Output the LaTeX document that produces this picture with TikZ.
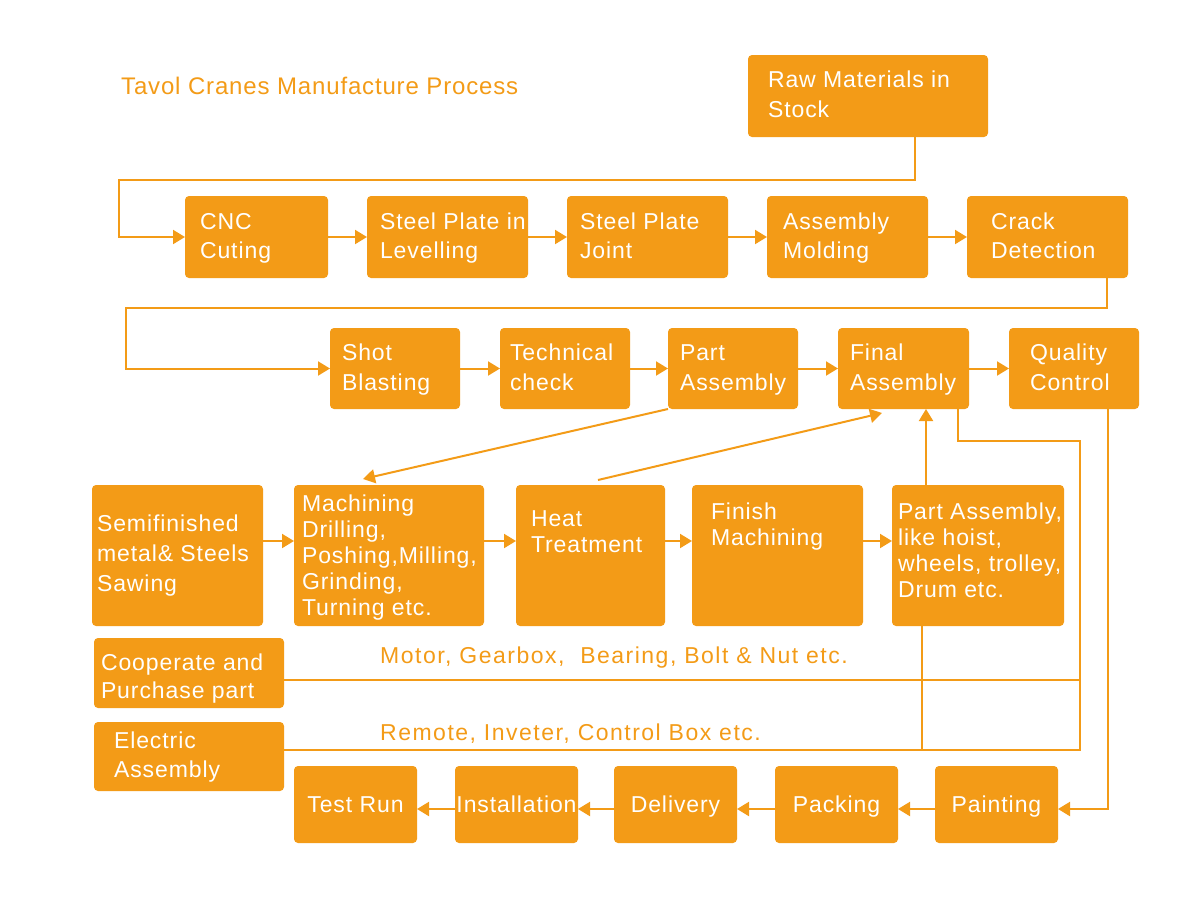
\documentclass[tikz,border=0pt]{standalone}
\usepackage{fontspec}
\setmainfont{Liberation Sans}[LetterSpace=4]
\newfontfamily\titlefam{Liberation Sans}[LetterSpace=3.5]
\newfontfamily\lblfam{Liberation Sans}[LetterSpace=6.5]
\usetikzlibrary{arrows.meta}
\definecolor{tc}{RGB}{243,155,23}
\newcommand\bt[5]{\hspace*{#1pt}\parbox[c][#2pt][t]{#3pt}{\vspace*{#4pt}\begin{tabular}[t]{@{}l@{}}#5\end{tabular}}}
\begin{document}
\begin{tikzpicture}[x=1pt,y=-1pt,
  box/.style={fill=tc, rounded corners=4pt, text=white, inner sep=0pt, outer sep=0pt},
  fA/.style={font=\fontsize{23}{29}\selectfont},
  fB/.style={font=\fontsize{23}{30}\selectfont},
  fC/.style={font=\fontsize{23}{26}\selectfont},
  fD/.style={font=\fontsize{23}{28}\selectfont},
  lastbox/.style={box, font=\fontsize{23}{26}\selectfont, minimum width=123pt, minimum height=77pt, text height=16.5pt, text depth=0pt},
  ln/.style={draw=tc, line width=2pt},
  arr/.style={ln, -{Triangle[length=12pt,width=14pt]}},
  lbl/.style={text=tc, inner sep=0pt, anchor=base west, font=\lblfam\fontsize{23}{28}\selectfont}]
\useasboundingbox (0,0) rectangle (1200,900);

% title
\node[text=tc, inner sep=0pt, anchor=base west, font=\titlefam\fontsize{24}{28}\selectfont] (title) at (121,94) {Tavol Cranes Manufacture Process};

% raw
\node[box,fB] (raw) at (868,96) {\bt{20}{82}{220}{11.3}{Raw Materials in\\Stock}};

% row 1
\node[box,fA] (cnc) at (256.5,237) {\bt{15}{82}{128}{12.7}{CNC\\Cuting}};
\node[box,fA] (spl) at (447.5,237) {\bt{13}{82}{148}{12.7}{Steel Plate in\\Levelling}};
\node[box,fA] (spj) at (647.5,237) {\bt{13}{82}{148}{12.7}{Steel Plate\\Joint}};
\node[box,fA] (am) at (847.5,237) {\bt{16}{82}{145}{12.7}{Assembly\\Molding}};
\node[box,fA] (cd) at (1047.5,237) {\bt{24}{82}{137}{12.7}{Crack\\Detection}};

% row 2
\node[box,fB] (shot) at (395,368.5) {\bt{12}{81}{118}{11}{Shot\\Blasting}};
\node[box,fB] (tech) at (565,368.5) {\bt{10}{81}{120}{11}{Technical\\check}};
\node[box,fB] (parta) at (733,368.5) {\bt{12}{81}{118}{11}{Part\\Assembly}};
\node[box,fB] (final) at (903.5,368.5) {\bt{12}{81}{119}{11}{Final\\Assembly}};
\node[box,fB] (qc) at (1074,368.5) {\bt{21}{81}{109}{11}{Quality\\Control}};

% row 3
\node[box,fB] (semi) at (177.5,555.5) {\bt{5}{141}{166}{25.7}{Semifinished\\metal\& Steels\\Sawing}};
\node[box,fC] (mach) at (389,555.5) {\bt{8}{141}{182}{8.5}{Machining\\Drilling,\\Poshing,Milling,\\Grinding,\\Turning etc.}};
\node[box,fC] (heat) at (590.5,555.5) {\bt{15}{141}{134}{23.5}{Heat\\Treatment}};
\node[box,fC] (finish) at (777.5,555.5) {\bt{19}{141}{152}{16.1}{Finish\\Machining}};
\node[box,fC] (pal) at (978,555.5) {\bt{6}{141}{166}{15.8}{Part Assembly,\\like hoist,\\wheels, trolley,\\Drum etc.}};

% side boxes
\node[box,fD] (coop) at (189,673) {\bt{7}{70}{183}{12.4}{Cooperate and\\Purchase part}};
\node[box,fA] (elec) at (189,756.5) {\bt{20}{69}{170}{6}{Electric\\Assembly}};

% row 4
\node[lastbox] (test) at (355.5,804.5) {Test Run};
\node[lastbox] (inst) at (516.5,804.5) {Installation};
\node[lastbox] (deliv) at (675.5,804.5) {Delivery};
\node[lastbox] (pack) at (836.5,804.5) {Packing};
\node[lastbox] (paint) at (996.5,804.5) {Painting};

% labels
\node[lbl] (lmotor) at (380,663) {Motor, Gearbox,\ \ Bearing, Bolt \& Nut etc.};
\node[lbl] (lremote) at (380,740) {Remote, Inveter, Control Box etc.};

% helper coordinates
\coordinate (xa) at (915,0);
\coordinate (xb) at (1107,0);
\coordinate (xc) at (926,0);
\coordinate (xd) at (958,0);
\coordinate (xe) at (922,0);
\coordinate (xf) at (1108,0);
\coordinate (ya) at (0,680);
\coordinate (yb) at (0,750);
\coordinate (yc) at (0,809);
\coordinate (yd) at (0,541);

% connectors
\draw[arr] (raw.south -| xa) -- (915,180) -- (119,180) |- (cnc.west);
\draw[arr] (cnc.east) -- (spl.west);
\draw[arr] (spl.east) -- (spj.west);
\draw[arr] (spj.east) -- (am.west);
\draw[arr] (am.east) -- (cd.west);

\draw[arr] (cd.south -| xb) -- (1107,308) -- (126,308) |- (shot.west);
\draw[arr] (shot.east) -- (tech.west);
\draw[arr] (tech.east) -- (parta.west);
\draw[arr] (parta.east) -- (final.west);
\draw[arr] (final.east) -- (qc.west);

\draw[arr] (parta.south west) -- ([xshift=-26pt,yshift=6pt]mach.north);
\draw[arr] ([xshift=7.5pt,yshift=5pt]heat.north) -- ([xshift=-21.5pt,yshift=-4pt]final.south);

\draw[arr] (semi.east |- yd) -- (mach.west |- yd);
\draw[arr] (mach.east |- yd) -- (heat.west |- yd);
\draw[arr] (heat.east |- yd) -- (finish.west |- yd);
\draw[arr] (finish.east |- yd) -- (pal.west |- yd);

\draw[arr] (pal.north -| xc) -- (final.south -| xc);
\draw[ln] (final.south -| xd) |- (1080,441) -- (1080,750) -- (elec.east |- yb);
\draw[ln] (coop.east |- ya) -- (1080,680);
\draw[ln] (pal.south -| xe) -- (xe |- yb);

\draw[arr] (qc.south -| xf) |- (paint.east |- yc);
\draw[arr] (paint.west |- yc) -- (pack.east |- yc);
\draw[arr] (pack.west |- yc) -- (deliv.east |- yc);
\draw[arr] (deliv.west |- yc) -- (inst.east |- yc);
\draw[arr] (inst.west |- yc) -- (test.east |- yc);
\end{tikzpicture}
\end{document}
